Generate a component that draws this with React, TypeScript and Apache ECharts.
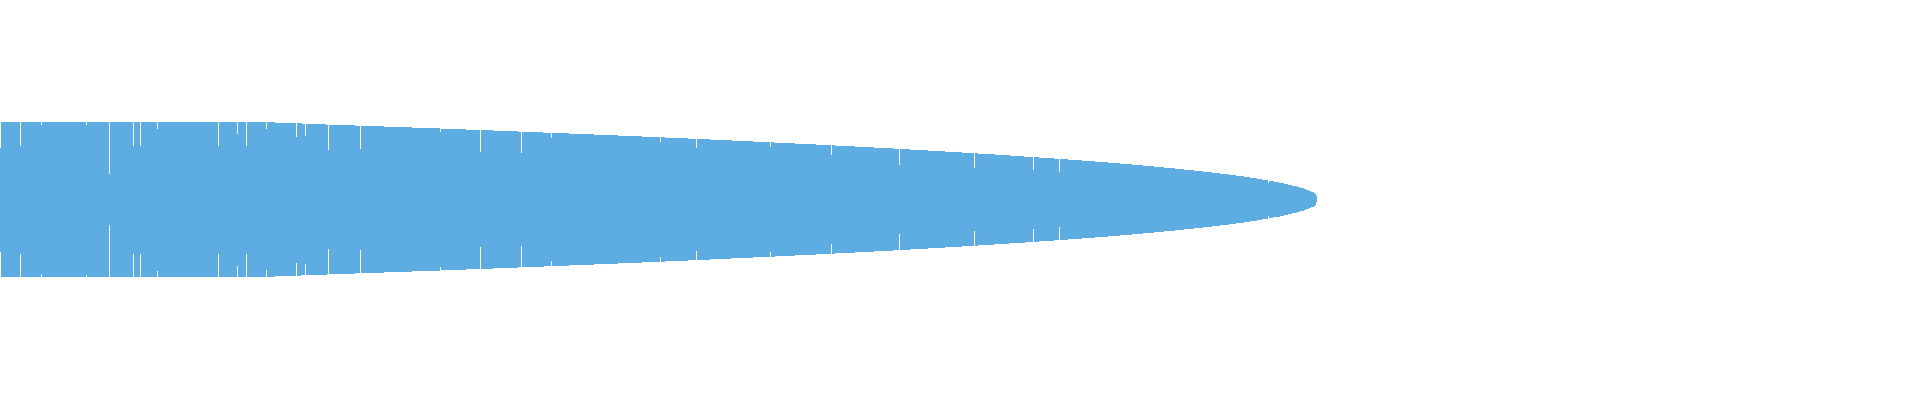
import React, { useEffect, useRef } from "react";
import * as echarts from "echarts";

// outline of the shape: x position and half-thickness (the shape is mirrored around 0)
const profileX = [
  0, 266, 296, 326, 383, 439, 492, 543, 593, 641, 687, 731, 774, 815, 854,
  892, 927, 961, 994, 1024, 1053, 1081, 1107, 1131, 1153, 1174, 1193, 1211,
  1228, 1243, 1256, 1267, 1279, 1287, 1296, 1303, 1308, 1313, 1315, 1316, 1317,
];
const profileHalf = [
  77.8, 77.3, 76.2, 75, 73, 71, 69, 67, 65, 63, 61, 59, 57, 55, 53, 51, 49,
  47, 45, 43, 41, 39, 37, 35, 33, 31, 29, 27, 25, 23, 21, 19, 17, 15, 13, 11,
  9, 7, 5, 3, 0,
];

// single columns where the value drops below the outline
const notchX = [
  0, 20, 41, 86, 109, 133, 140, 157, 218, 237, 246, 266, 296, 305, 328, 360,
  440, 480, 521, 551, 660, 696, 770, 831, 899, 974, 1033, 1059, 1268,
];
const notchHalf = [
  52, 54, 74.5, 75, 25.5, 54, 54, 71, 54, 66, 54, 70.5, 63, 64, 49.5, 50.5,
  67.5, 47.5, 46.5, 61.5, 57.5, 51.5, 52.5, 44.5, 34.5, 31.8, 29.5, 27.5, 16.2,
];

const COLOR = "#5dade2";
const MASK = 100; // white cut taller than the outline

const App: React.FC = () => {
  const chartRef = useRef<HTMLDivElement>(null);

  useEffect(() => {
    if (!chartRef.current) return;
    const chart = echarts.init(chartRef.current, undefined, { renderer: "svg" });

    const upper = profileX.map((x, i) => [x, profileHalf[i]]);
    const lower = profileX.map((x, i) => [x, -profileHalf[i]]);

    const area = (data: number[][]) => ({
      type: "line",
      data,
      symbol: "none",
      z: 2,
      lineStyle: { width: 0 },
      areaStyle: { color: COLOR, opacity: 1 },
      silent: true,
    });

    // all bars sit on the same column (barGap -100%)
    const bars = (data: number[][], color: string, z: number) => ({
      type: "bar",
      data,
      barWidth: 1,
      barGap: "-100%",
      z,
      itemStyle: { color },
      silent: true,
    });

    chart.setOption({
      animation: false,
      grid: { left: 0, right: 0, top: 0, bottom: 0 },
      xAxis: { type: "value", min: -0.5, max: 1919.5, show: false },
      yAxis: { type: "value", min: -200.5, max: 199.5, show: false },
      series: [
        area(upper),
        area(lower),
        bars(notchX.map((x) => [x, MASK]), "#ffffff", 3),
        bars(notchX.map((x) => [x, -MASK]), "#ffffff", 3),
        bars(notchX.map((x, i) => [x, notchHalf[i]]), COLOR, 4),
        bars(notchX.map((x, i) => [x, -notchHalf[i]]), COLOR, 4),
      ],
    });

    const handleResize = () => chart.resize();
    window.addEventListener("resize", handleResize);

    return () => {
      chart.dispose();
      window.removeEventListener("resize", handleResize);
    };
  }, []);

  return (
    <>
      <style>{"svg path { shape-rendering: crispEdges; }"}</style>
      <div
        ref={chartRef}
        style={{ position: "fixed", left: 0, top: 0, width: "1920px", height: "400px" }}
      />
    </>
  );
};

export default App;
